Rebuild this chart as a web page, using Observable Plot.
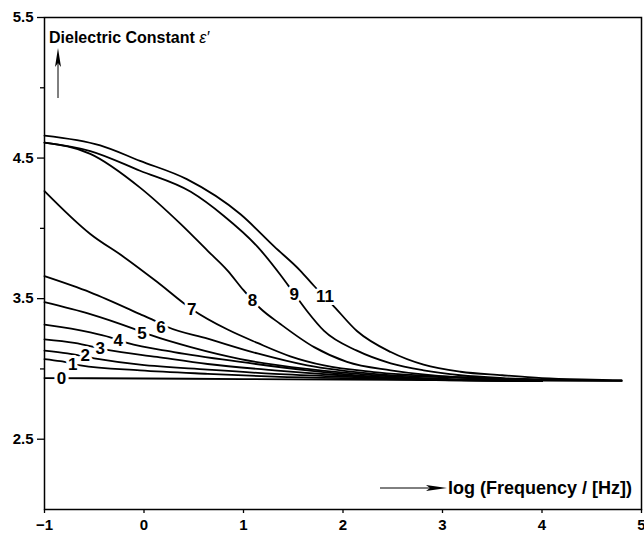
<!DOCTYPE html>
<html><head><meta charset="utf-8">
<script src="https://cdn.jsdelivr.net/npm/d3@7"></script>
<script src="https://cdn.jsdelivr.net/npm/@observablehq/plot@0.6"></script>
<style>html,body{margin:0;padding:0;background:#fff}svg{display:block}</style>
</head><body><div id="chart"></div>
<script>
// ---- data ----
const curveNames = ["0","1","2","3","4","5","6","7","8","9","11"];

const logF_0  = [-1, 0, 1, 2, 3, 4, 4.8];
const eps_0   = [2.935, 2.932, 2.928, 2.924, 2.92, 2.917, 2.915];
const logF_1  = [-1, -0.84, -0.64, -0.04, 0.64, 1.31, 2.31, 3.18, 4.0];
const eps_1   = [3.07, 3.055, 3.025, 2.99, 2.965, 2.945, 2.93, 2.918, 2.913];
const logF_2  = [-1, -0.77, -0.5, -0.04, 0.64, 1.31, 1.98, 3.18, 4.0];
const eps_2   = [3.13, 3.11, 3.075, 3.03, 2.995, 2.965, 2.945, 2.92, 2.913];
const logF_3  = [-1, -0.70, -0.37, 0.13, 0.64, 1.31, 1.98, 3.18, 4.0];
const eps_3   = [3.21, 3.185, 3.135, 3.085, 3.035, 2.99, 2.955, 2.918, 2.914];
const logF_4  = [-1, -0.54, -0.34, -0.17, 0.30, 0.97, 1.64, 2.31, 3.18, 4.0];
const eps_4   = [3.315, 3.26, 3.225, 3.185, 3.12, 3.05, 2.99, 2.945, 2.92, 2.916];
const logF_5  = [-1, -0.54, -0.10, 0.07, 0.47, 0.97, 1.64, 2.31, 3.18, 4.0];
const eps_5   = [3.475, 3.39, 3.285, 3.24, 3.155, 3.07, 3.0, 2.955, 2.925, 2.918];
const logF_6  = [-1, -0.54, -0.04, 0.10, 0.23, 0.64, 1.14, 1.64, 2.31, 3.18, 3.6, 4.0];
const eps_6   = [3.66, 3.545, 3.39, 3.345, 3.30, 3.215, 3.11, 3.025, 2.965, 2.937, 2.928, 2.92];
const logF_7  = [-1, -0.54, -0.20, 0.13, 0.48, 0.84, 1.14, 1.47, 1.81, 2.31, 3.18, 3.6, 4.0];
const eps_7   = [4.265, 3.96, 3.795, 3.62, 3.425, 3.28, 3.185, 3.09, 3.025, 2.978, 2.942, 2.93, 2.92];
const logF_8  = [-1, -0.54, -0.04, 0.37, 0.64, 0.84, 1.00, 1.17, 1.37, 1.71, 2.04, 2.48, 3.18, 3.6, 4.0];
const eps_8   = [4.61, 4.53, 4.29, 4.03, 3.84, 3.70, 3.56, 3.43, 3.32, 3.155, 3.05, 2.99, 2.94, 2.93, 2.92];
const logF_9  = [-1, -0.54, -0.04, 0.47, 0.80, 1.14, 1.37, 1.51, 1.64, 1.81, 2.14, 2.48, 2.81, 3.18, 3.6, 4.0, 4.4, 4.8];
const eps_9   = [4.61, 4.55, 4.41, 4.26, 4.09, 3.87, 3.67, 3.535, 3.41, 3.27, 3.13, 3.04, 2.99, 2.955, 2.935, 2.925, 2.92, 2.915];
const logF_11 = [-1, -0.44, -0.04, 0.43, 0.97, 1.31, 1.57, 1.71, 1.89, 2.14, 2.48, 2.81, 3.18, 3.6, 4.0, 4.4, 4.8];
const eps_11  = [4.66, 4.59, 4.48, 4.35, 4.10, 3.87, 3.70, 3.59, 3.46, 3.27, 3.12, 3.03, 2.98, 2.955, 2.935, 2.925, 2.92];

// curve-label anchor points (on the curves)
const labelLogF = [-0.83, -0.715, -0.59, -0.44, -0.26, -0.02, 0.17, 0.48, 1.09, 1.51, 1.82];
const labelEps  = [2.935, 3.03, 3.095, 3.145, 3.20, 3.25, 3.295, 3.425, 3.49, 3.53, 3.515];

const xTicks = [-1, 0, 1, 2, 3, 4, 5];
const yMajorTicks = [2.5, 3.5, 4.5, 5.5];
const yMinorTicks = [3, 4, 5];

const xTitle = "log (Frequency / [Hz])";
const yTitle = "Dielectric Constant ";
const ySymbol = "\u03B5\u2032";

// ---- tables ----
const series = {"0":[logF_0,eps_0],"1":[logF_1,eps_1],"2":[logF_2,eps_2],"3":[logF_3,eps_3],
  "4":[logF_4,eps_4],"5":[logF_5,eps_5],"6":[logF_6,eps_6],"7":[logF_7,eps_7],
  "8":[logF_8,eps_8],"9":[logF_9,eps_9],"11":[logF_11,eps_11]};
const rows = curveNames.flatMap(c => series[c][0].map((x, i) => ({curve: c, x, y: series[c][1][i]})));
const labels = curveNames.map((c, i) => ({text: c, x: labelLogF[i], y: labelEps[i]}));

const FONT = "'Liberation Sans', Arial, Helvetica, sans-serif";

function annotations(index, scales, values, dim) {
  const L = dim.marginLeft, T = dim.marginTop, R = dim.width - dim.marginRight, B = dim.height - dim.marginBottom;
  const g = d3.create("svg:g").attr("font-family", FONT).attr("font-weight", "bold").attr("fill", "black");
  // y title
  const t = g.append("text").attr("x", L + 5).attr("y", T + 26).attr("font-size", 16).attr("text-anchor", "start");
  t.append("tspan").text(yTitle);
  t.append("tspan").attr("font-weight", "normal").attr("font-style", "italic").text(ySymbol);
  // y arrow
  const ax = L + 14;
  g.append("line").attr("x1", ax).attr("x2", ax).attr("y1", T + 81).attr("y2", T + 40)
    .attr("stroke", "black").attr("stroke-width", 1);
  g.append("path").attr("d", `M${ax},${T + 31}L${ax - 3},${T + 50}L${ax},${T + 46}L${ax + 3},${T + 50}Z`);
  // x title
  g.append("text").attr("x", R - 9).attr("y", B - 15).attr("text-anchor", "end").attr("font-size", 18).text(xTitle);
  const ay = B - 21;
  const textStart = R - 9 - 186;
  g.append("line").attr("x1", textStart - 66).attr("x2", textStart - 10).attr("y1", ay).attr("y2", ay)
    .attr("stroke", "black").attr("stroke-width", 1);
  g.append("path").attr("d", `M${textStart + 1},${ay}L${textStart - 20},${ay - 3}L${textStart - 16},${ay}L${textStart - 20},${ay + 3}Z`);
  return g.node();
}

const chart = Plot.plot({
  width: 644,
  height: 534,
  marginLeft: 44,
  marginRight: 3,
  marginTop: 17,
  marginBottom: 25,
  x: {domain: [-1, 5]},
  y: {domain: [2, 5.5]},
  style: {fontFamily: FONT, fontSize: "15px", fontWeight: "bold", color: "black", background: "white"},
  marks: [
    Plot.frame({stroke: "black", strokeWidth: 1.5}),
    Plot.axisY(yMajorTicks, {label: null, tickSize: 7, tickPadding: 4, tickFormat: d3.format(".1f"), strokeWidth: 1.3}),
    Plot.axisY(yMinorTicks, {label: null, tickSize: 4, tickFormat: () => "", strokeWidth: 1.3}),
    Plot.axisX(xTicks, {label: null, tickSize: 4, tickPadding: 6, tickFormat: d3.format("d"), strokeWidth: 1.3}),
    Plot.line(rows, {x: "x", y: "y", z: "curve", curve: "monotone-x", stroke: "black", strokeWidth: 1.8}),
    Plot.text(labels, {x: "x", y: "y", text: "text", fill: "black", stroke: "white", strokeWidth: 6,
      fontSize: 17, fontWeight: "bold"}),
    annotations
  ]
});
document.getElementById("chart").appendChild(chart);
</script>
</body></html>
